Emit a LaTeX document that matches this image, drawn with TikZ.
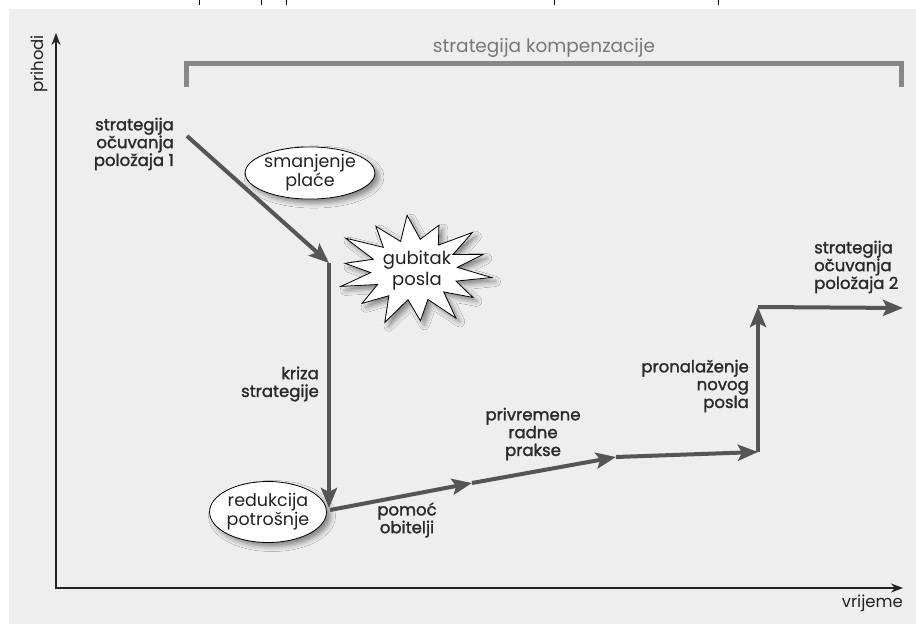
\documentclass[tikz,border=0pt]{standalone}
\usepackage{fontspec}
\setmainfont{Poppins}
\newfontfamily\medfont{Poppins}[FakeBold=1.6]
\usetikzlibrary{arrows.meta,shadows.blur,shapes.geometric}
\definecolor{bgc}{HTML}{EEEEEE}
\definecolor{flowc}{HTML}{555555}
\definecolor{axisc}{HTML}{222222}
\definecolor{brk}{HTML}{888888}
\definecolor{txt}{HTML}{2A2A2A}
\definecolor{ttl}{HTML}{777777}
\tikzset{
  axisline/.style={draw=axisc, line width=2.2pt, {Stealth[length=12pt,width=9pt]}-{Stealth[length=12pt,width=9pt]}},
  flow/.style={draw=flowc, line width=4pt, -{Stealth[length=20pt,width=16pt,inset=4pt]}},
  bracketline/.style={draw=brk, line width=5pt},
  lbl/.style={text=txt, font=\medfont\fontsize{16.5}{17.8}\selectfont, inner sep=0pt},
  ell/.style={ellipse, draw=black, line width=0.8pt, fill=white, align=center, inner sep=0pt,
    font=\fontsize{17.5}{19}\selectfont, text=axisc,
    blur shadow={shadow xshift=4pt, shadow yshift=-4pt, shadow blur radius=5pt, shadow opacity=45}},
  burst/.style={draw=black, line width=0.8pt, fill=white, line join=miter,
    blur shadow={shadow xshift=4pt, shadow yshift=-4pt, shadow blur radius=5pt, shadow opacity=45}},
  axlbl/.style={text=axisc, font=\fontsize{16.5}{18}\selectfont, inner sep=0pt},
  tick/.style={draw=black, line width=0.8pt}
}
\begin{document}
\begin{tikzpicture}[x=1pt,y=-1pt]
\useasboundingbox (0,0) rectangle (916,624);
\fill[white] (0,0) rectangle (916,624);
\fill[bgc] (9,9) rectangle (916,624);
% stray marks at the top edge
\foreach \t in {199,261,286,554,718} \draw[tick] (\t,0) -- (\t,5);

% axes
\coordinate (ytop) at (56,33);
\coordinate (orig) at (56,588);
\coordinate (xend) at (903,588);
\draw[axisline] (ytop) -- (orig) -- (xend);
\node[axlbl, rotate=90] (ylab) at (39,64) {prihodi};
\node[axlbl, anchor=east] (xlab) at (903,603) {vrijeme};

% compensation bracket
\node[text=ttl, font=\fontsize{18.5}{20}\selectfont, inner sep=0pt] (title) at (544,48) {strategija kompenzacije};
\coordinate (b1) at (186,87);
\coordinate (b2) at (186,63);
\coordinate (b3) at (901,63);
\coordinate (b4) at (901,87);
\draw[bracketline] (b1) -- (b2) -- (b3) -- (b4);

% starburst
\begin{scope}[shift={(414,270)}, x=1.45pt, y=-1pt]
\filldraw[burst] (8:54) -- (21:31) -- (34:49) -- (47:30) -- (59:56) -- (72:31) -- (85:51)
  -- (98:30) -- (111:56) -- (124:31) -- (137:49) -- (150:29) -- (162:53) -- (175:30)
  -- (188:48) -- (201:30) -- (214:57) -- (227:31) -- (239:51) -- (252:30) -- (265:55)
  -- (278:31) -- (291:48) -- (304:30) -- (317:55) -- (330:31) -- (342:50) -- (355:30) -- cycle;
\end{scope}
\node[align=center, inner sep=0pt, font=\fontsize{18}{21}\selectfont, text=axisc] (loss) at (417,270) {gubitak\\posla};

% ellipses
\node[ell, minimum width=119pt, minimum height=47pt] (cut) at (310,173) {smanjenje\\plaće};
\node[ell, minimum width=104pt, minimum height=61pt] (red) at (268,512) {redukcija\\potrošnje};

% trajectory
\coordinate (a0) at (187,136);
\coordinate (a1) at (329,263);
\coordinate (a2) at (329,508);
\coordinate (a3) at (330,510);
\coordinate (a4) at (472,483);
\coordinate (a5) at (616,457);
\coordinate (a6) at (758,452);
\coordinate (a7) at (758,307);
\coordinate (a8) at (903,308);
\draw[flow] (a0) -- (a1);
\draw[flow] (a1) -- (a2);
\draw[flow] (a3) -- (a4);
\draw[flow] (a4) -- (a5);
\draw[flow] (a5) -- (a6);
\draw[flow] (a6) -- (a7);
\draw[flow] (a7) -- (a8);

% labels
\node[lbl, align=right, anchor=east] (s1) at (174,144) {strategija\\očuvanja\\položaja 1};
\node[lbl, align=right, anchor=east] (kr) at (319,384) {kriza\\strategije};
\node[lbl, align=center] (pr) at (533,434) {privremene\\radne\\prakse};
\node[lbl, align=center] (po) at (407,520) {pomoć\\obitelji};
\node[lbl, align=right, anchor=east] (nj) at (749,386) {pronalaženje\\novog\\posla};
\node[lbl, align=left, anchor=west] (s2) at (814,267) {strategija\\očuvanja\\položaja 2};
\end{tikzpicture}
\end{document}
